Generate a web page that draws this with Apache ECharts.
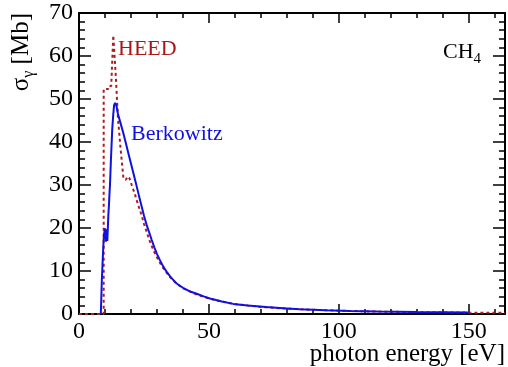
<!DOCTYPE html>
<html>
<head>
<meta charset="utf-8">
<script src="https://cdn.jsdelivr.net/npm/echarts@6/dist/echarts.min.js"></script>
<style>html,body{margin:0;padding:0;background:#fff;}#c{width:508px;height:367px;}</style>
</head>
<body>
<div id="c"></div>
<script>
// Berkowitz photoabsorption cross-section (eV, Mb)
const berkowitzX = [8.4, 8.8, 9.3, 9.6, 10.0, 10.4, 10.8, 10.9, 11.3, 11.5, 11.8, 11.9, 12.3, 12.8, 13.2, 13.5, 13.9, 14.4, 15.0, 15.8, 17, 18, 19, 20, 21, 22, 23, 24, 25, 26, 27, 28, 29, 30, 31, 32, 33, 34, 35, 36, 37.6, 40, 42.5, 45.3, 48, 50.4, 55, 59.4, 65, 72, 80, 85, 95, 104, 115, 130, 150];
const berkowitzY = [0, 8, 15, 18.4, 19.9, 16.8, 19.7, 17, 23, 25, 28.8, 29.6, 36, 43, 46.5, 48.5, 49.1, 48.5, 46.5, 44.8, 42.2, 39.8, 37.4, 35, 32.6, 30.2, 27.7, 25.3, 22.9, 20.8, 19, 17.2, 15.5, 14, 12.7, 11.5, 10.5, 9.6, 8.8, 8.1, 7.1, 6.1, 5.3, 4.7, 4.1, 3.6, 2.9, 2.35, 1.95, 1.6, 1.3, 1.12, 0.9, 0.72, 0.58, 0.45, 0.35];
// HEED cross-section (eV, Mb)
const heedX = [0, 9.5, 9.5, 11.2, 11.4, 12.4, 13.2, 13.5, 14.2, 15.0, 16.0, 17.1, 18.0, 18.8, 19.5, 20.3, 21.6, 22.8, 24.1, 25, 26, 27, 28, 29, 30, 32, 35, 37.6, 40, 45, 50, 55, 60, 70, 80, 90, 100, 110, 120, 135, 150, 164];
const heedY = [0, 0, 52.3, 52.3, 53, 53, 64.8, 64.5, 55, 45.5, 38.5, 31.6, 31.2, 32, 31.5, 30, 27.7, 25.3, 23, 21, 19.2, 17.3, 15.8, 14.4, 13.2, 11, 8.6, 7, 6, 4.6, 3.6, 2.9, 2.3, 1.65, 1.25, 0.98, 0.78, 0.63, 0.52, 0.4, 0.32, 0.27];
// axes
const xMin = 0, xMax = 164, xMajor = 50, xMinor = 10;
const yMin = 0, yMax = 70, yMajor = 10;
const xTitle = 'photon energy [eV]';
const seriesNames = ['Berkowitz', 'HEED'];

const FONT = 'Liberation Serif';
const chart = echarts.init(document.getElementById('c'), null, {renderer: 'canvas'});
const zip = (xs, ys) => xs.map((x, i) => [x, ys[i]]);
const axisLineOn = {show: true, onZero: false, lineStyle: {color: '#000', width: 2}};
const axisLineOff = {show: false, onZero: false};

function xAx(grid, pos, interval, tickLen, labels) {
  return {
    type: 'value', gridIndex: grid, position: pos, min: xMin, max: xMax, interval: interval,
    axisLine: grid === 0 ? axisLineOn : axisLineOff,
    axisTick: {show: true, inside: true, length: tickLen, lineStyle: {color: '#000', width: 1.5}},
    axisLabel: labels ? {show: true, margin: 6, color: '#000', fontFamily: FONT, fontSize: 24,
      formatter: v => (v % xMajor === 0 ? String(v) : '')} : {show: false},
    splitLine: {show: false}
  };
}
function yAx(grid, pos, labels, show) {
  return {
    type: 'value', gridIndex: grid, position: pos, min: yMin, max: yMax, interval: yMajor, show: show,
    axisLine: axisLineOn,
    axisTick: {show: true, inside: true, length: 12, lineStyle: {color: '#000', width: 1.5}},
    minorTick: {show: true, splitNumber: 5, length: 6, lineStyle: {color: '#000', width: 1.5}},
    axisLabel: labels ? {show: true, margin: 6, color: '#000', fontFamily: FONT, fontSize: 24} : {show: false},
    splitLine: {show: false}
  };
}

const option = {
  animation: false,
  backgroundColor: '#fff',
  grid: [
    {left: 79, right: 3, top: 13, bottom: 53, containLabel: false},
    {left: 79, right: 3, top: 13, bottom: 53, containLabel: false}
  ],
  xAxis: [
    xAx(0, 'bottom', xMajor, 10, true),
    xAx(0, 'top', xMajor, 10, false),
    xAx(1, 'bottom', xMinor, 5, false),
    xAx(1, 'top', xMinor, 5, false)
  ],
  yAxis: [
    yAx(0, 'left', true, true),
    yAx(0, 'right', false, true),
    yAx(1, 'left', false, false)
  ],
  series: [
    {name: seriesNames[1], type: 'line', xAxisIndex: 0, yAxisIndex: 0, data: zip(heedX, heedY),
      showSymbol: false, symbol: 'none', lineStyle: {color: '#b01c1c', width: 2, type: [3, 3]}, z: 3},
    {name: seriesNames[0], type: 'line', xAxisIndex: 0, yAxisIndex: 0, data: zip(berkowitzX, berkowitzY),
      showSymbol: false, symbol: 'none', lineStyle: {color: '#1010e0', width: 2}, z: 4}
  ],
  graphic: [
    {type: 'text', x: 505, y: 354, style: {text: xTitle, fill: '#000', font: '25px "Liberation Serif"', align: 'right', verticalAlign: 'middle'}},
    {type: 'text', x: 21, y: 13, rotation: Math.PI / 2, style: {
      text: '{s|σ}{g|γ}{s| [Mb]}', align: 'right', verticalAlign: 'middle', fill: '#000',
      rich: {
        s: {fontFamily: FONT, fontSize: 25, lineHeight: 25, verticalAlign: 'top', fill: '#000'},
        g: {fontFamily: FONT, fontSize: 16, lineHeight: 16, padding: [12, 0, 0, 0], verticalAlign: 'top', fill: '#000'}
      }}},
    {type: 'text', x: 118, y: 49, style: {text: 'HEED', fill: '#a81818', font: '22px "Liberation Serif"', align: 'left', verticalAlign: 'middle'}},
    {type: 'text', x: 131, y: 134, style: {text: 'Berkowitz', fill: '#1010e0', font: '22px "Liberation Serif"', align: 'left', verticalAlign: 'middle'}},
    {type: 'text', x: 443, y: 52, style: {
      text: '{m|CH}{g|4}', align: 'left', verticalAlign: 'middle', fill: '#000',
      rich: {
        m: {fontFamily: FONT, fontSize: 22, lineHeight: 22, verticalAlign: 'top', fill: '#000'},
        g: {fontFamily: FONT, fontSize: 15, lineHeight: 15, padding: [11, 0, 0, 0], verticalAlign: 'top', fill: '#000'}
      }}}
  ]
};
chart.setOption(option);
</script>
</body>
</html>
